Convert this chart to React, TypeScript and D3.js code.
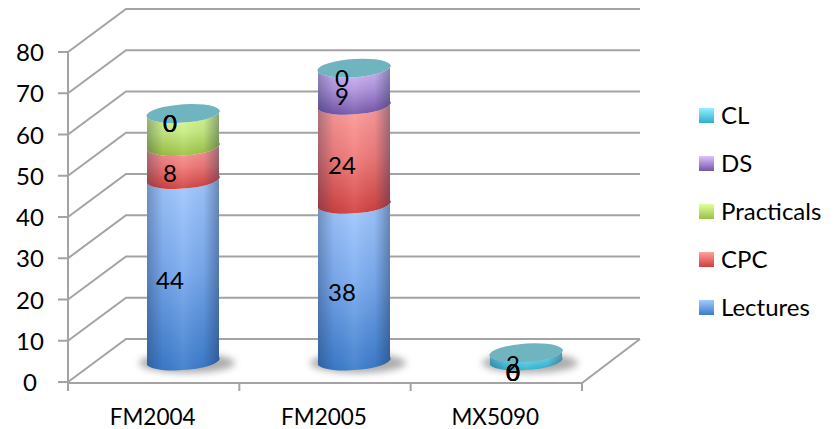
import React from "react";
import * as d3 from "d3";

const categories = ["FM2004", "FM2005", "MX5090"];
const seriesNames = ["Lectures", "CPC", "Practicals", "DS", "CL"];
const lectures = [44, 38, 0];
const cpc = [8, 24, 0];
const practicals = [8, 0, 0];
const ds = [0, 9, 0];
const cl = [0, 0, 2];
const labelLectures = ["44", "38", "0"];
const labelCpc = ["8", "24", "0"];
const labelPracticals = ["0", "", "0"];
const labelDs = ["0", "9", "0"];
const labelCl = ["0", "0", "2"];
const yTicks = [0, 10, 20, 30, 40, 50, 60, 70, 80];

const palette = [
  { light: "#a4caff", mid: "#78a9ee", dark: "#3a7bcb" },
  { light: "#ffa09e", mid: "#f07a78", dark: "#d23f3d" },
  { light: "#e0ff9f", mid: "#c6ea7e", dark: "#9cc044" },
  { light: "#dfc2ff", mid: "#b094dd", dark: "#7555a8" },
  { light: "#93f0ff", mid: "#5fd2e8", dark: "#2eaecb" },
];
const capColor = "#6fb4bf";

const y = d3.scaleLinear().domain([0, 80]).range([382, 52]);
const x = d3.scaleBand<string>().domain(categories).range([68, 582]);
const depthX = 58;
const depthY = -43;
const font = "Lato, Carlito, 'Open Sans', sans-serif";
const grid = "#a3a3a3";
const barW = 72;
const ry = 9;
const tilt = -4;
const baseShift = -21;

function ellipse(cx: number, cy: number) {
  const r = barW / 2;
  return `M${cx - r},${cy + 4} A${r},${ry} ${tilt} 0 0 ${cx + r},${cy - 4} A${r},${ry} ${tilt} 0 0 ${cx - r},${cy + 4}Z`;
}
function side(cx: number, top: number, bottom: number) {
  const r = barW / 2;
  return `M${cx - r},${top + 4} A${r},${ry} ${tilt} 0 0 ${cx + r},${top - 4} L${cx + r},${bottom - 4} A${r},${ry} ${tilt} 0 1 ${cx - r},${bottom + 4}Z`;
}

export default function App() {
  const seriesVals = [lectures, cpc, practicals, ds, cl];
  const seriesLabels = [labelLectures, labelCpc, labelPracticals, labelDs, labelCl];
  const legendY = [116, 164, 212, 260, 308];
  const barCx = [183, 354, 526];
  const labelX = [170, 342, 513];
  const labelY = [
    [280, 173, 123, 123, 123],
    [292, 165, 0, 96, 78],
    [372, 372, 372, 372, 364],
  ];
  return (
    <svg width={838} height={429} style={{ position: "absolute", left: 0, top: 0 }} fontFamily={font}>
      <defs>
        {palette.map((p, i) => (
          <linearGradient key={i} id={`v${i}`} x1="0" x2="0" y1="0" y2="1">
            <stop offset="0" stopColor={p.light} />
            <stop offset="0.5" stopColor={p.mid} />
            <stop offset="1" stopColor={p.dark} />
          </linearGradient>
        ))}
        {palette.map((p, i) => (
          <linearGradient key={i} id={`l${i}`} x1="0" x2="0" y1="0" y2="1">
            <stop offset="0" stopColor={p.light} />
            <stop offset="1" stopColor={p.dark} />
          </linearGradient>
        ))}
        <linearGradient id="shade" x1="0" x2="1" y1="0" y2="0">
          <stop offset="0" stopColor="#1a2a4a" stopOpacity="0.34" />
          <stop offset="0.22" stopColor="#1a2a4a" stopOpacity="0.05" />
          <stop offset="0.5" stopColor="#ffffff" stopOpacity="0.08" />
          <stop offset="0.78" stopColor="#1a2a4a" stopOpacity="0.05" />
          <stop offset="1" stopColor="#1a2a4a" stopOpacity="0.42" />
        </linearGradient>
        <filter id="blur" x="-30%" y="-80%" width="160%" height="260%">
          <feGaussianBlur stdDeviation="3.5" />
        </filter>
      </defs>

      {yTicks.map((t) => (
        <g key={t} stroke={grid} strokeWidth={2} fill="none">
          <path d={`M${x.range()[0]},${y(t)} L${x.range()[0] + depthX},${y(t) + depthY} H${x.range()[1] + depthX}`} />
          <path d={`M${x.range()[0] - 10},${y(t)} H${x.range()[0]}`} />
        </g>
      ))}
      <path d={`M68,${y(80)} V${y(0) + 9}`} stroke={grid} strokeWidth={2} fill="none" />
      <path d={`M68,${y(0) + 1} H582 L${582 + depthX},${y(0) + depthY}`} stroke={grid} strokeWidth={2} fill="none" />
      {d3.range(4).map((i) => {
        const tx = 68 + (x.step() * i);
        return <line key={i} x1={tx} x2={tx} y1={y(0)} y2={y(0) + 9} stroke={grid} strokeWidth={2} />;
      })}

      {yTicks.map((t) => (
        <text key={t} x={30} y={y(t) + 9} fontSize={24} textAnchor="middle" fill="#000">{t}</text>
      ))}
      {categories.map((c) => (
        <text key={c} x={(x(c) as number) + x.bandwidth() / 2 - 1} y={425} fontSize={22.5} textAnchor="middle" fill="#000">{c}</text>
      ))}

      {categories.map((c, ci) => {
        const cx = barCx[ci];
        const bottom = y(0) + baseShift;
        let cum = 0;
        const segs = seriesVals.map((vals, si) => {
          const start = cum;
          cum += vals[ci];
          return { si, top: bottom - (y(0) - y(cum)), bot: bottom - (y(0) - y(start)), v: vals[ci] };
        });
        const total = cum;
        const top = bottom - (y(0) - y(total));
        return (
          <g key={c}>
            <ellipse cx={cx + 4} cy={bottom + 2} rx={barW / 2 + 12} ry={ry + 1} fill="#8a8a8a" opacity={0.7} filter="url(#blur)" />
            {segs.filter((s) => s.v > 0).map((s) => (
              <g key={s.si}>
                <path d={side(cx, s.top, s.bot)} fill={`url(#v${s.si})`} />
                <path d={side(cx, s.top, s.bot)} fill="url(#shade)" />
              </g>
            ))}
            <path d={ellipse(cx, top)} fill={capColor} />
          </g>
        );
      })}

      {categories.map((c, ci) => (
        <g key={c}>
          {seriesLabels.map((labels, si) =>
            labels[ci] ? (
              <text key={si} x={labelX[ci]} y={labelY[ci][si] + 9} fontSize={24} textAnchor="middle" fill="#000">
                {labels[ci]}
              </text>
            ) : null
          )}
        </g>
      ))}

      {seriesNames.map((name, i) => {
        const ly = legendY[seriesNames.length - 1 - i];
        return (
          <g key={name}>
            <rect x={699} y={ly - 8} width={15} height={15} fill={`url(#l${i})`} />
            <text x={721} y={ly + 8} fontSize={24} fill="#000">{name}</text>
          </g>
        );
      })}
    </svg>
  );
}
